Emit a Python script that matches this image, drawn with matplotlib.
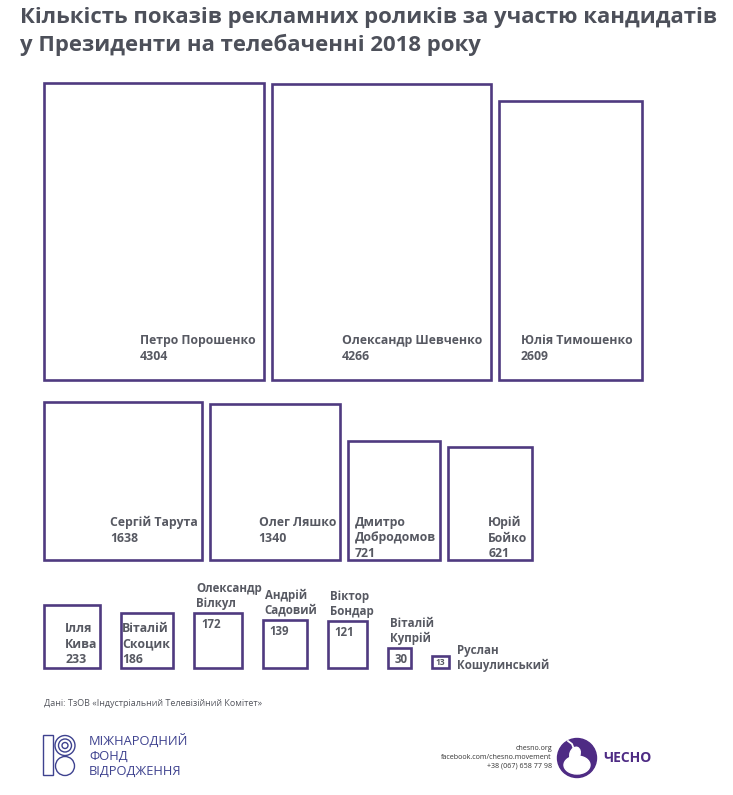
import matplotlib
matplotlib.use('Agg')
import matplotlib.pyplot as plt
from matplotlib.patches import Rectangle, Circle, Ellipse
import numpy as np

plt.rcParams['font.family'] = ['Open Sans', 'DejaVu Sans']

# data: number of TV ad showings per candidate, 2018
names = ["Петро Порошенко", "Олександр Шевченко", "Юлія Тимошенко",
         "Сергій Тарута", "Олег Ляшко", "Дмитро\nДобродомов", "Юрій\nБойко",
         "Ілля\nКива", "Віталій\nСкоцик", "Олександр\nВілкул", "Андрій\nСадовий",
         "Віктор\nБондар", "Віталій\nКупрій", "Руслан\nКошулинський"]
values = [4304, 4266, 2609, 1638, 1340, 721, 621, 233, 186, 172, 139, 121, 30, 13]
rows = [0, 0, 0, 1, 1, 1, 1, 2, 2, 2, 2, 2, 2, 2]

# style: box shape (height / width) and where the label goes
aspect = [1.35, 1.35, 1.96, 1.0, 1.2, 1.29, 1.36, 1.11, 1.07, 1.14, 1.10, 1.2, 0.87, 0.67]
label_pos = ['in'] * 9 + ['above'] * 4 + ['right']

# layout
W, H = 733, 795
area_per_unit = 15.2          # px^2 per showing
row_bottom = [380, 560, 668]
row_gap = [8, 8, 21]
row_text_top = [46, 44, 46]   # offset of label top from box bottom
row_pad = [9, 4, 3]
x0 = 44

edge = '#4f3a80'
txt = '#575962'

fig = plt.figure(figsize=(W / 100, H / 100), dpi=100)
ax = fig.add_axes([0, 0, 1, 1])
ax.set_xlim(0, W)
ax.set_ylim(H, 0)
ax.axis('off')

fig.text(20 / W, 1 - 7 / H,
         "Кількість показів рекламних роликів за участю кандидатів\n"
         "у Президенти на телебаченні 2018 року",
         ha='left', va='top', fontsize=15.95, fontweight='bold', color='#4d505a',
         linespacing=1.32)

cursor = {0: x0, 1: x0, 2: x0}
for name, val, r, a, pos in zip(names, values, rows, aspect, label_pos):
    area = val * area_per_unit
    w = np.sqrt(area / a)
    h = w * a
    left = cursor[r]
    bottom = row_bottom[r]
    top = bottom - h
    cursor[r] = left + w + row_gap[r]
    ax.add_patch(Rectangle((left, top), w, h, fill=False, edgecolor=edge, lw=1.9))
    if pos == 'in':
        ax.text(left + w - row_pad[r], bottom - row_text_top[r], f"{name}\n{val}",
                ha='right', va='top', multialignment='left', fontsize=8.8,
                fontweight='bold', color=txt, linespacing=1.25)
    elif pos == 'above':
        ax.text(left + 2, top - 3, name, ha='left', va='bottom', fontsize=8.3,
                fontweight='bold', color=txt, linespacing=1.2)
        ax.text(left + 7, top + 5, str(val), ha='left', va='top', fontsize=8.3,
                fontweight='bold', color=txt)
    else:
        ax.text(left + w / 2, top + h / 2, str(val), ha='center', va='center',
                fontsize=6, fontweight='bold', color=txt)
        ax.text(left + w + 8, bottom + 4, name, ha='left', va='bottom', fontsize=8.3,
                fontweight='bold', color=txt, linespacing=1.2)

# source
ax.text(44, 704, "Дані: ТзОВ «Індустріальний Телевізійний Комітет»", ha='left',
        va='center', fontsize=6.5, color='#55575f')

# IRF logo
blue = '#3e428f'
ax.add_patch(Rectangle((43, 735), 10, 40, fill=False, edgecolor=blue, lw=1.0))
for rad in [10, 6.5, 3]:
    ax.add_patch(Circle((65, 745.5), rad, fill=False, edgecolor=blue, lw=1.0))
ax.add_patch(Circle((65, 766), 9.5, fill=False, edgecolor=blue, lw=1.0))
ax.text(89, 756, "МІЖНАРОДНИЙ\nФОНД\nВІДРОДЖЕННЯ", ha='left', va='center',
        fontsize=9.3, color=blue, linespacing=1.2)

# CHESNO logo
purple = '#4e2b84'
ax.text(552, 757.5, "chesno.org\nfacebook.com/chesno.movement\n+38 (067) 658 77 98",
        ha='right', va='center', multialignment='right', fontsize=5.1,
        color='#333333', linespacing=1.3)
ax.add_patch(Circle((577, 758), 19.5, color=purple))
ax.add_patch(Ellipse((577, 765), 26, 18, color='white'))
ax.add_patch(Ellipse((575, 754), 10, 14, angle=20, color='white'))
ax.plot([575, 572, 568], [752, 744, 741], color='white', lw=1.3)
ax.text(603, 758, "ЧЕСНО", ha='left', va='center', fontsize=10, fontweight='bold',
        color=purple)

fig.savefig('out.png', dpi=100)
